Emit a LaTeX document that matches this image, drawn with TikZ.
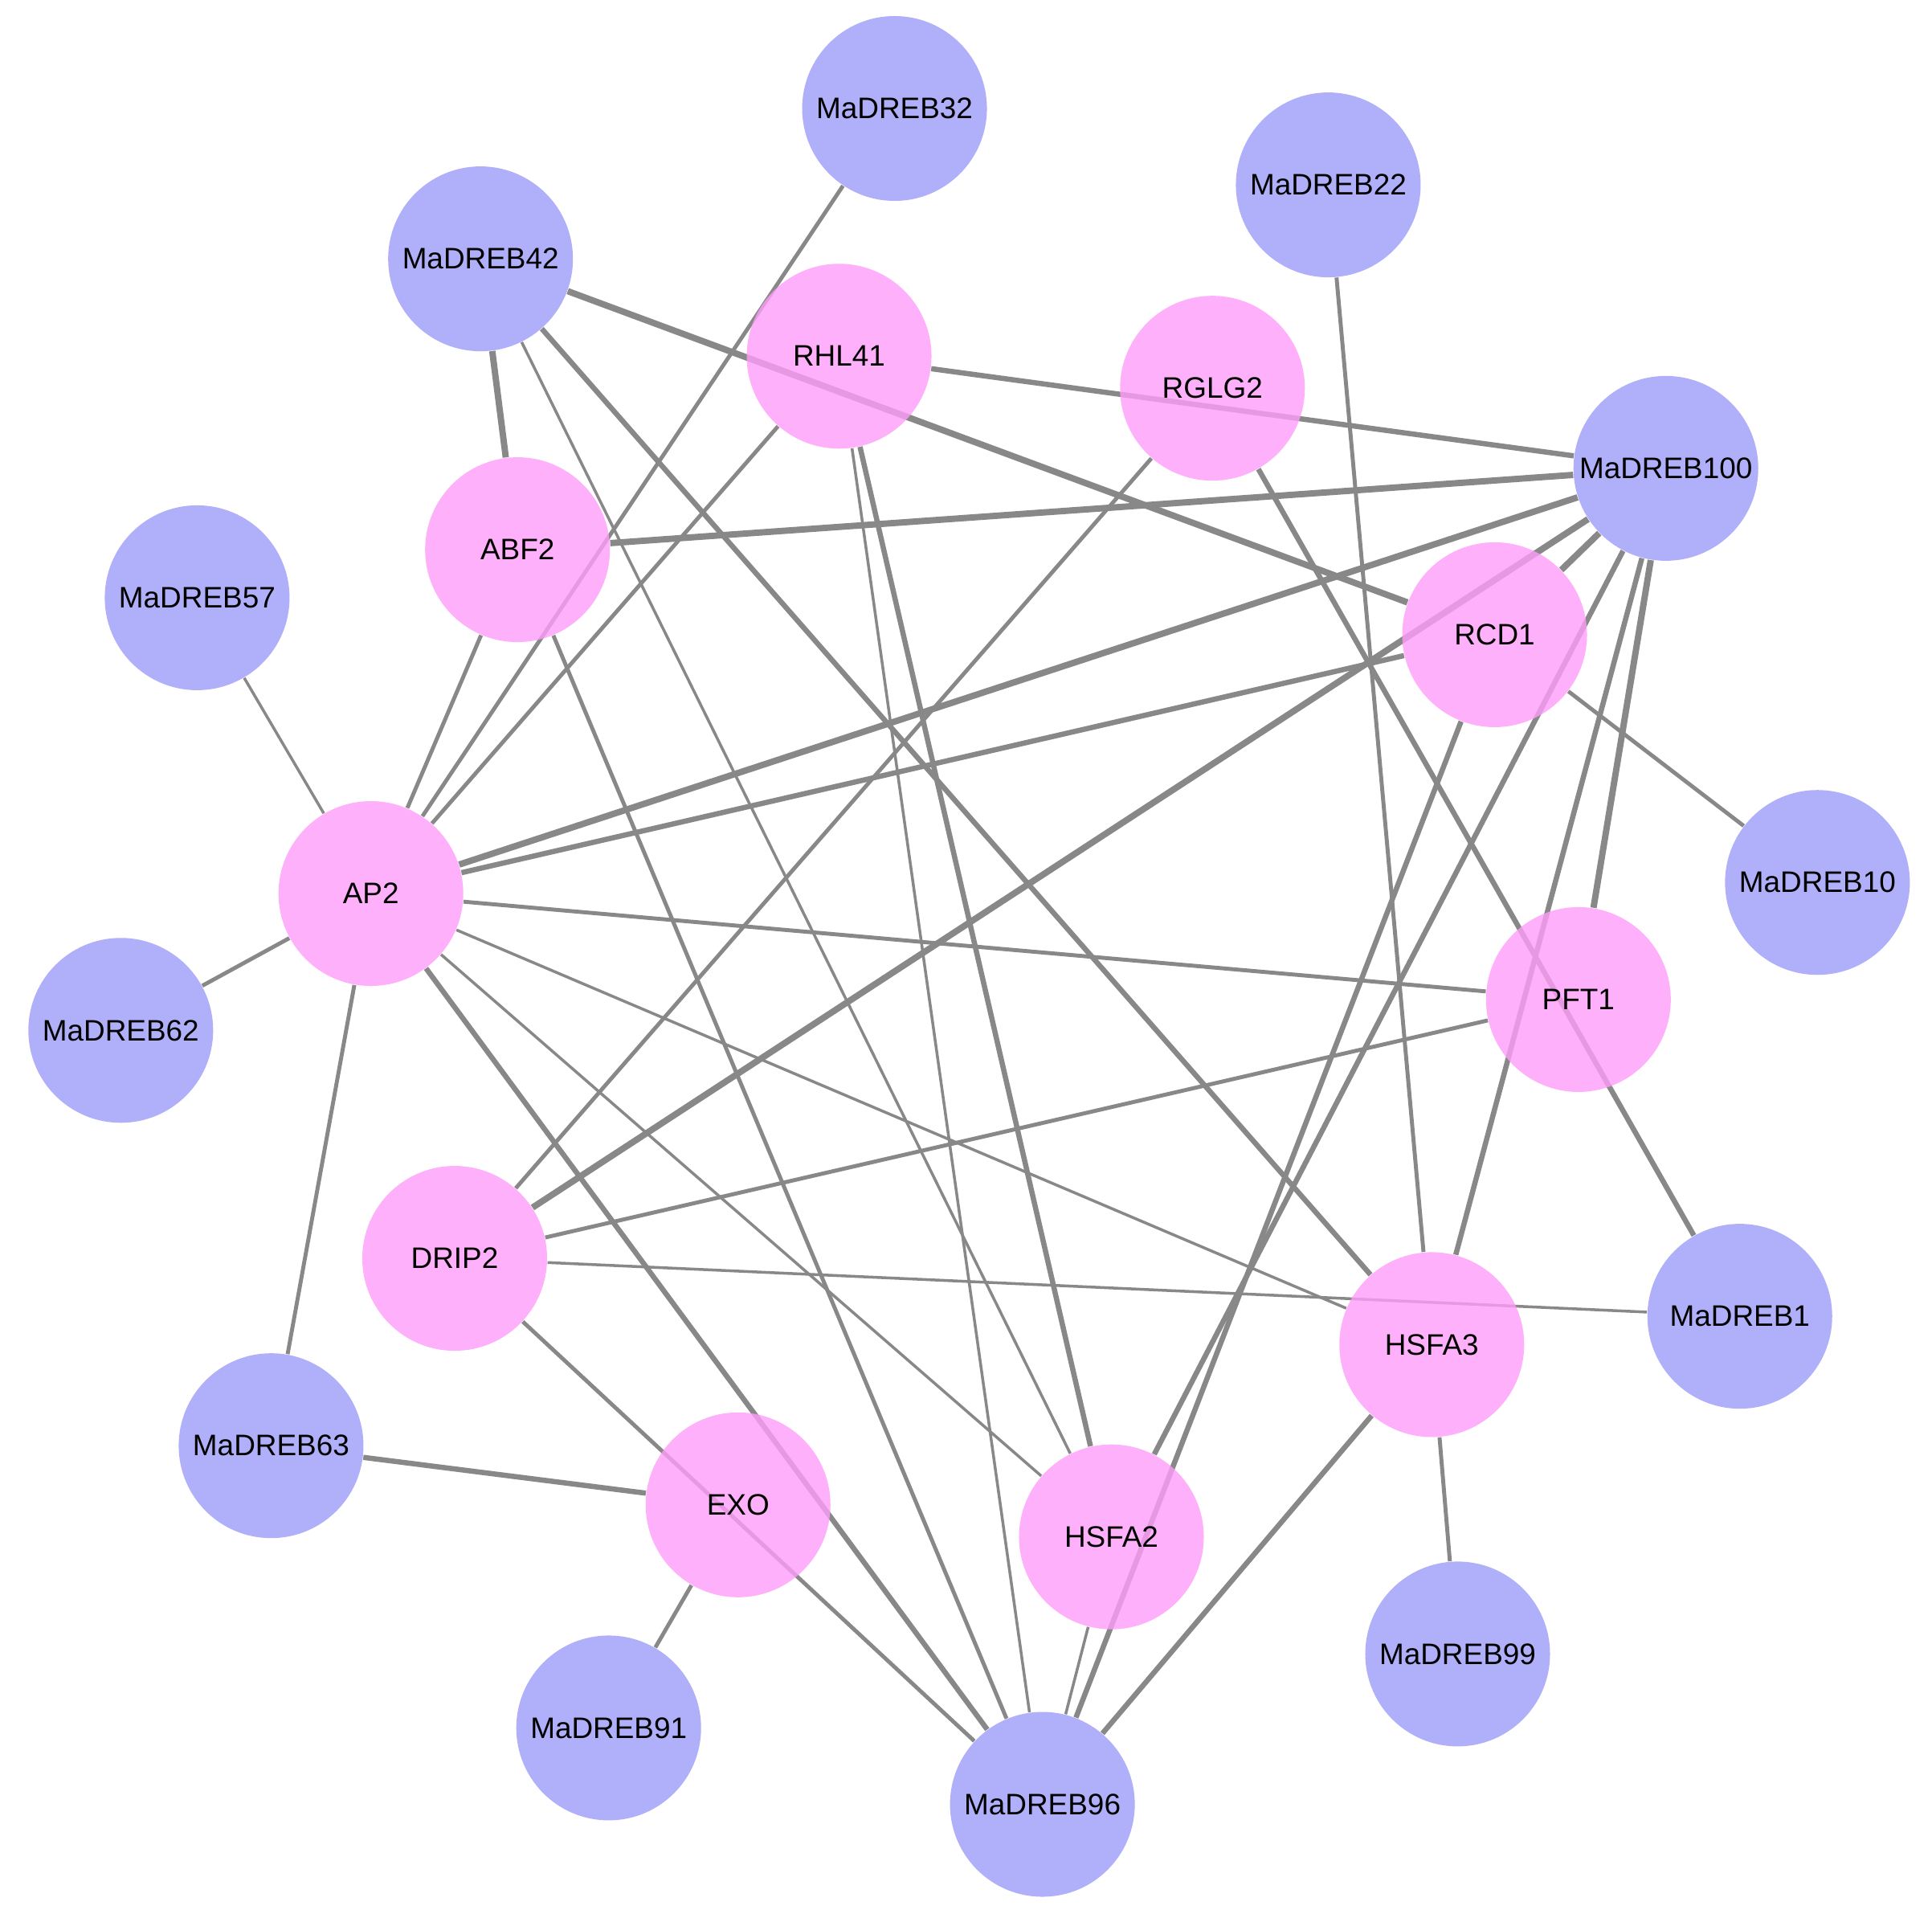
\documentclass[tikz,border=0pt]{standalone}
\usepackage{fontspec}
\setmainfont{Liberation Sans}
\usetikzlibrary{backgrounds}
\definecolor{nblue}{RGB}{175,175,250}
\definecolor{npink}{RGB}{255,156,249}
\definecolor{egray}{RGB}{136,136,136}
\begin{document}
\begin{tikzpicture}[x=0.015338cm,y=-0.015338cm,
  gnode/.style={circle,inner sep=0pt,minimum size=2.3cm,font=\fontsize{10.5}{12}\selectfont,text=black},
  dreb/.style={gnode,fill=nblue},
  gene/.style={gnode,fill=npink,fill opacity=0.8,text opacity=1},
  ethin/.style={draw=egray,line width=1.0pt},
  emed/.style={draw=egray,line width=1.4pt},
  ethick/.style={draw=egray,line width=1.85pt},
  eheavy/.style={draw=egray,line width=2.25pt}]
\useasboundingbox (0,0) rectangle (1568,1556);
% DREB nodes
\node[dreb] (d32) at (726,88) {MaDREB32};
\node[dreb] (d22) at (1078,150) {MaDREB22};
\node[dreb] (d42) at (390,210) {MaDREB42};
\node[dreb] (d100) at (1352,380) {MaDREB100};
\node[dreb] (d57) at (160,485) {MaDREB57};
\node[dreb] (d10) at (1475,716) {MaDREB10};
\node[dreb] (d62) at (98,836) {MaDREB62};
\node[dreb] (d1) at (1412,1068) {MaDREB1};
\node[dreb] (d63) at (220,1173) {MaDREB63};
\node[dreb] (d99) at (1183,1342) {MaDREB99};
\node[dreb] (d91) at (494,1402) {MaDREB91};
\node[dreb] (d96) at (846,1464) {MaDREB96};
% gene nodes
\node[gene] (rhl) at (681,289) {RHL41};
\node[gene] (rglg) at (984,315) {RGLG2};
\node[gene] (abf) at (420,446) {ABF2};
\node[gene] (rcd) at (1213,515) {RCD1};
\node[gene] (ap2) at (301,725) {AP2};
\node[gene] (pft) at (1281,811) {PFT1};
\node[gene] (drip) at (369,1021) {DRIP2};
\node[gene] (hsfa3) at (1162,1091) {HSFA3};
\node[gene] (exo) at (599,1221) {EXO};
\node[gene] (hsfa2) at (902,1247) {HSFA2};
\begin{scope}[on background layer]
\draw[emed] (d32) -- (ap2);
\draw[eheavy] (d42) -- (abf);
\draw[eheavy] (d42) -- (rcd);
\draw[ethick] (d42) -- (hsfa3);
\draw[ethin] (d42) -- (hsfa2);
\draw[ethick] (rhl) -- (d100);
\draw[emed] (rhl) -- (ap2);
\draw[ethick] (rhl) -- (hsfa2);
\draw[ethin] (rhl) -- (d96);
\draw[ethick] (rglg) -- (d1);
\draw[emed] (rglg) -- (drip);
\draw[emed] (d22) -- (hsfa3);
\draw[eheavy] (d100) -- (abf);
\draw[eheavy] (d100) -- (ap2);
\draw[eheavy] (d100) -- (drip);
\draw[eheavy] (d100) -- (rcd);
\draw[eheavy] (d100) -- (pft);
\draw[ethick] (d100) -- (hsfa3);
\draw[ethick] (d100) -- (hsfa2);
\draw[ethick] (rcd) -- (ap2);
\draw[emed] (rcd) -- (d10);
\draw[ethick] (rcd) -- (d96);
\draw[emed] (ap2) -- (pft);
\draw[ethin] (ap2) -- (hsfa3);
\draw[ethin] (ap2) -- (hsfa2);
\draw[ethick] (ap2) -- (d96);
\draw[ethin] (ap2) -- (d57);
\draw[emed] (ap2) -- (d62);
\draw[emed] (ap2) -- (d63);
\draw[emed] (abf) -- (ap2);
\draw[emed] (abf) -- (d96);
\draw[emed] (pft) -- (drip);
\draw[ethin] (drip) -- (d1);
\draw[emed] (drip) -- (d96);
\draw[ethick] (d63) -- (exo);
\draw[emed] (exo) -- (d91);
\draw[ethick] (hsfa3) -- (d96);
\draw[emed] (hsfa3) -- (d99);
\draw[ethin] (hsfa2) -- (d96);
\end{scope}
\end{tikzpicture}
\end{document}
